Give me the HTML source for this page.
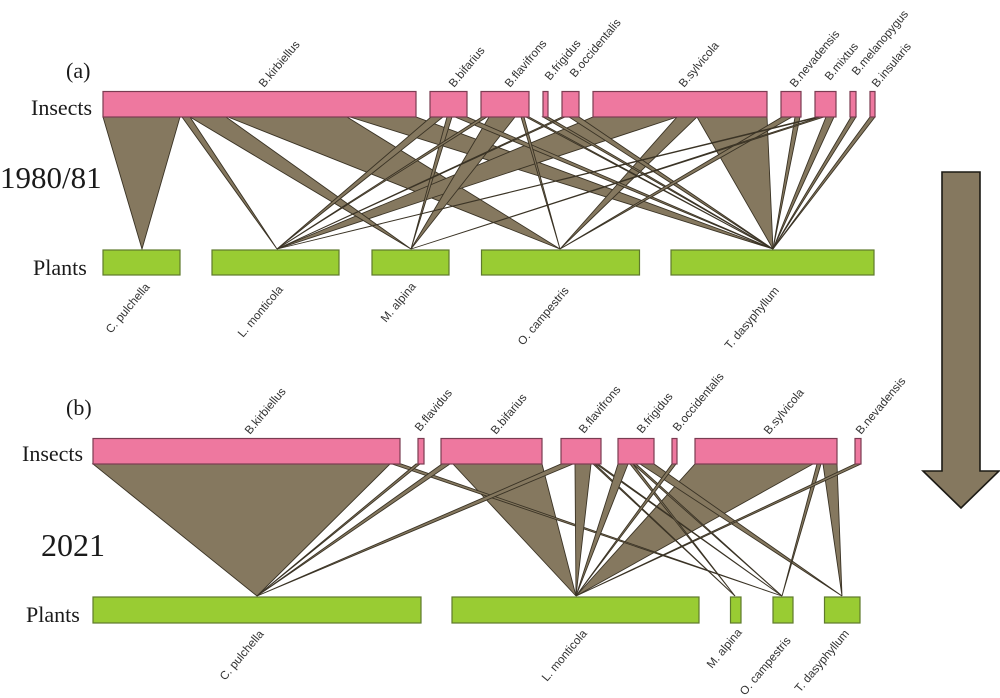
<!DOCTYPE html>
<html><head><meta charset="utf-8"><style>
html,body{margin:0;padding:0;background:#fff}
svg{display:block}
.f polygon{fill:#85785f;stroke:#3a3325;stroke-width:.9;stroke-linejoin:miter}
.i rect{fill:#ee789f;stroke:#7a3c52;stroke-width:1.2}
.p rect{fill:#99cc33;stroke:#5e7a2c;stroke-width:1.2}
.t text{font-family:"Liberation Serif",serif;font-size:22px;fill:#1a1a1a}
.l text{font-family:"Liberation Sans",sans-serif;font-size:11.7px;fill:#333}
</style></head><body>
<svg width="1000" height="698" viewBox="0 0 1000 698" xmlns="http://www.w3.org/2000/svg">
<rect width="1000" height="698" fill="#fff"/>
<g class="f">
<polygon points="103,117 180,117 142,249"/>
<polygon points="228,117 347,117 560,249"/>
<polygon points="350,117 416,117 773,249"/>
<polygon points="593,117 677,117 277,249"/>
<polygon points="697,117 767,117 773,249"/>
<polygon points="190,117 226,117 411,249"/>
<polygon points="489,117 515,117 411,249"/>
<polygon points="677,117 697,117 560,249"/>
<polygon points="182,117 190,117 277,249"/>
<polygon points="431,117 443,117 277,249"/>
<polygon points="447,117 452,117 411,249"/>
<polygon points="455,117 467,117 773,249"/>
<polygon points="482,117 487,117 277,249"/>
<polygon points="521,117 524,117 560,249"/>
<polygon points="526,117 529,117 773,249"/>
<polygon points="543,117 548,117 773,249"/>
<polygon points="562,117 565,117 277,249"/>
<polygon points="569,117 579,117 773,249"/>
<polygon points="782,117 792,117 560,249"/>
<polygon points="795,117 800,117 773,249"/>
<polygon points="817,117 820,117 277,249"/>
<polygon points="820,117 824,117 411,249"/>
<polygon points="826,117 834,117 773,249"/>
<polygon points="851,117 856,117 773,249"/>
<polygon points="870,117 875,117 773,249"/>

<polygon points="93,464 390,464 257,596"/>
<polygon points="453,464 542,464 576,596"/>
<polygon points="695,464 813,464 576,596"/>
<polygon points="392,464 401,464 782,596"/>
<polygon points="416,464 420,464 257,596"/>
<polygon points="442,464 450,464 257,596"/>
<polygon points="561,464 573,464 257,596"/>
<polygon points="575,464 591,464 576,596"/>
<polygon points="593,464 595,464 735,596"/>
<polygon points="596,464 598,464 782,596"/>
<polygon points="618,464 628,464 576,596"/>
<polygon points="630,464 633,464 735,596"/>
<polygon points="633,464 636,464 782,596"/>
<polygon points="640,464 654,464 842,596"/>
<polygon points="672,464 676,464 576,596"/>
<polygon points="817,464 821,464 782,596"/>
<polygon points="823,464 837,464 842,596"/>
<polygon points="855,464 861,464 576,596"/>
</g>
<g class="i">
<rect x="103" y="91.5" width="313" height="25.5"/>
<rect x="430" y="91.5" width="37" height="25.5"/>
<rect x="481" y="91.5" width="48" height="25.5"/>
<rect x="543" y="91.5" width="5" height="25.5"/>
<rect x="562" y="91.5" width="17" height="25.5"/>
<rect x="593" y="91.5" width="174" height="25.5"/>
<rect x="781" y="91.5" width="20" height="25.5"/>
<rect x="815" y="91.5" width="21" height="25.5"/>
<rect x="850" y="91.5" width="6" height="25.5"/>
<rect x="870" y="91.5" width="5" height="25.5"/>
<rect x="93" y="438.5" width="307" height="25.5"/>
<rect x="418" y="438.5" width="6" height="25.5"/>
<rect x="441" y="438.5" width="101" height="25.5"/>
<rect x="561" y="438.5" width="40" height="25.5"/>
<rect x="618" y="438.5" width="36" height="25.5"/>
<rect x="672" y="438.5" width="5" height="25.5"/>
<rect x="695" y="438.5" width="142" height="25.5"/>
<rect x="855" y="438.5" width="6" height="25.5"/>
</g>
<g class="p">
<rect x="103" y="250" width="77" height="25"/>
<rect x="212" y="250" width="127" height="25"/>
<rect x="372" y="250" width="77" height="25"/>
<rect x="481.500" y="250" width="158" height="25"/>
<rect x="671" y="250" width="203" height="25"/>
<rect x="93" y="597" width="328" height="26"/>
<rect x="452" y="597" width="247" height="26"/>
<rect x="730.500" y="597" width="10.500" height="26"/>
<rect x="773" y="597" width="20" height="26"/>
<rect x="824.500" y="597" width="35.500" height="26"/>
</g>
<polygon points="942,172 980,172 980,471 999,471 961,508 923,471 942,471" fill="#85785f" stroke="#1c1a14" stroke-width="1.6"/>
<g class="t">
<text x="66" y="78">(a)</text>
<text x="31" y="115">Insects</text>
<text x="0" y="188" style="font-size:31px">1980/81</text>
<text x="33" y="275">Plants</text>
<text x="66" y="415">(b)</text>
<text x="22" y="461">Insects</text>
<text x="41" y="556" style="font-size:32px">2021</text>
<text x="26" y="622">Plants</text>
</g>
<g class="l">
<text transform="translate(264,88) rotate(-50)">B.kirbiellus</text>
<text transform="translate(454,88) rotate(-50)">B.bifarius</text>
<text transform="translate(510,88) rotate(-50)">B.flavifrons</text>
<text transform="translate(550,81) rotate(-50)">B.frigidus</text>
<text transform="translate(575,78) rotate(-50)">B.occidentalis</text>
<text transform="translate(684,88) rotate(-50)">B.sylvicola</text>
<text transform="translate(795,88) rotate(-50)">B.nevadensis</text>
<text transform="translate(830,81) rotate(-50)">B.mixtus</text>
<text transform="translate(857,76) rotate(-50)">B.melanopygus</text>
<text transform="translate(877,88) rotate(-50)">B.insularis</text>
<text transform="translate(111,334) rotate(-50)">C. pulchella</text>
<text transform="translate(243,338) rotate(-50)">L. monticola</text>
<text transform="translate(386,323) rotate(-50)">M. alpina</text>
<text transform="translate(523,346) rotate(-50)">O. campestris</text>
<text transform="translate(730,350) rotate(-50)">T. dasyphyllum</text>
<text transform="translate(250,435) rotate(-50)">B.kirbiellus</text>
<text transform="translate(420,432) rotate(-50)">B.flavidus</text>
<text transform="translate(496,435) rotate(-50)">B.bifarius</text>
<text transform="translate(584,434) rotate(-50)">B.flavifrons</text>
<text transform="translate(642,434) rotate(-50)">B.frigidus</text>
<text transform="translate(678,432) rotate(-50)">B.occidentalis</text>
<text transform="translate(769,435) rotate(-50)">B.sylvicola</text>
<text transform="translate(861,435) rotate(-50)">B.nevadensis</text>
<text transform="translate(225,681) rotate(-50)">C. pulchella</text>
<text transform="translate(547,682) rotate(-50)">L. monticola</text>
<text transform="translate(712,669) rotate(-50)">M. alpina</text>
<text transform="translate(745,696) rotate(-50)">O. campestris</text>
<text transform="translate(800,693) rotate(-50)">T. dasyphyllum</text>
</g>
</svg>
</body></html>
